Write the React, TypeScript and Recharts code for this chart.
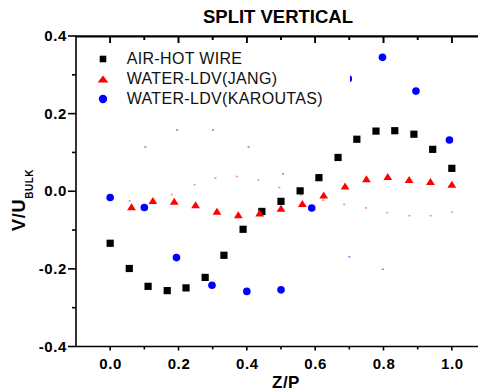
import React from 'react';
import { ScatterChart, Scatter, XAxis, YAxis, Legend } from 'recharts';

const FONT = '"Liberation Sans", Arial, Helvetica, sans-serif';

// ---- data ----
const AIR_X = [0, 0.056, 0.111, 0.167, 0.222, 0.278, 0.333, 0.389, 0.444, 0.5, 0.556, 0.611, 0.667, 0.722, 0.778, 0.833, 0.889, 0.944, 1.0];
const AIR_Y = [-0.134, -0.199, -0.245, -0.256, -0.249, -0.222, -0.165, -0.098, -0.052, -0.026, 0.001, 0.035, 0.087, 0.134, 0.155, 0.156, 0.147, 0.108, 0.059];

const JANG_X = [0.0625, 0.125, 0.1875, 0.25, 0.3125, 0.375, 0.4375, 0.5, 0.5625, 0.625, 0.6875, 0.75, 0.8125, 0.875, 0.9375, 1.0];
const JANG_Y = [-0.04, -0.024, -0.026, -0.035, -0.052, -0.061, -0.056, -0.044, -0.032, -0.01, 0.013, 0.032, 0.038, 0.03, 0.025, 0.018];

const KAR_X = [0.0, 0.1, 0.194, 0.298, 0.4, 0.5, 0.59, 0.697, 0.797, 0.895, 0.993];
const KAR_Y = [-0.016, -0.042, -0.171, -0.242, -0.258, -0.254, -0.043, 0.29, 0.345, 0.258, 0.132];

// faint tiny dots visible in the reference
const FAINT_BLUE_X = [0.103, 0.196, 0.301, 0.405, 0.506, 0.7, 0.798];
const FAINT_BLUE_Y = [0.114, 0.158, 0.158, 0.114, 0.045, -0.169, -0.201];
const FAINT_RED_X = [0.057, 0.18, 0.247, 0.308, 0.371, 0.434, 0.495, 0.559, 0.623, 0.685, 0.749, 0.811, 0.876, 0.938, 1.0];
const FAINT_RED_Y = [-0.025, -0.0085, 0.017, 0.034, 0.038, 0.029, 0.0095, -0.01, -0.023, -0.034, -0.043, -0.055, -0.063, -0.063, -0.054];

const SERIES_NAMES = ['AIR-HOT WIRE', 'WATER-LDV(JANG)', 'WATER-LDV(KAROUTAS)'];
const TITLE = 'SPLIT VERTICAL';
const X_LABEL = 'Z/P';

const X_DOMAIN: [number, number] = [-0.1, 1.1];
const Y_DOMAIN: [number, number] = [-0.4, 0.4];
const X_MAJOR = [0, 0.2, 0.4, 0.6, 0.8, 1.0];
const X_MINOR = [0.1, 0.3, 0.5, 0.7, 0.9];
const Y_MAJOR = [-0.4, -0.2, 0, 0.2, 0.4];
const Y_MINOR = [-0.3, -0.1, 0.1, 0.3];

const zip = (xs: number[], ys: number[]) => xs.map((x, i) => ({ x, y: ys[i] }));
const airData = zip(AIR_X, AIR_Y);
const jangData = zip(JANG_X, JANG_Y);
const karData = zip(KAR_X, KAR_Y);
const faintBlue = zip(FAINT_BLUE_X, FAINT_BLUE_Y);
const faintRed = zip(FAINT_RED_X, FAINT_RED_Y);

const X_TICKS = [...X_MAJOR, ...X_MINOR].sort((a, b) => a - b);
const Y_TICKS = [...Y_MAJOR, ...Y_MINOR].sort((a, b) => a - b);
const isMajor = (v: number, list: number[]) => list.some((m) => Math.abs(m - v) < 1e-9);
const fmt = (v: number) => (Math.abs(v) < 1e-9 ? '0.0' : v.toFixed(1));

// top frame of the plot: its corner and its tick positions, placed through the scales
const topFrame = [
  { x: X_DOMAIN[0], y: Y_DOMAIN[1], edge: true },
  ...X_TICKS.map((t) => ({ x: t, y: Y_DOMAIN[1], edge: false })),
];

const AXIS_W = 1.6;
const PLOT_TOP = 36;
const CHART_H = 392;
const X_AXIS_H = 45;
const PLOT_W = 410;

const YTick = (props: any) => {
  const { x, y, payload } = props;
  const major = isMajor(payload.value, Y_MAJOR);
  const len = major ? 8 : 4;
  const isTop = Math.abs(payload.value - Y_DOMAIN[1]) < 1e-9;
  return (
    <g>
      <line x1={x - len} x2={x} y1={y} y2={y} stroke="#000" strokeWidth={AXIS_W} />
      {isTop && <line x1={x - 0.8} x2={x + PLOT_W + 10} y1={y} y2={y} stroke="#000" strokeWidth={AXIS_W} />}
      {major && (
        <text x={x - 9} y={y + 5.2} textAnchor="end" fontFamily={FONT} fontWeight="bold" fontSize={15} letterSpacing={0.6} fill="#000">
          {fmt(payload.value)}
        </text>
      )}
    </g>
  );
};

const XTick = (props: any) => {
  const { x, y, payload } = props;
  const major = isMajor(payload.value, X_MAJOR);
  const len = major ? 4 : 3;
  const topLen = major ? 7 : 4;
  return (
    <g>
      <line x1={x} x2={x} y1={y} y2={y + len} stroke="#000" strokeWidth={AXIS_W} />
      <line x1={x} x2={x} y1={PLOT_TOP} y2={PLOT_TOP + topLen} stroke="#000" strokeWidth={AXIS_W} />
      {major && (
        <text x={x + 0.5} y={y + 22.8} textAnchor="middle" fontFamily={FONT} fontWeight="bold" fontSize={15} letterSpacing={0.6} fill="#000">
          {fmt(payload.value)}
        </text>
      )}
    </g>
  );
};

const XLabel = () => (
  <g>
    <text x={278} y={388.3} textAnchor="middle" fontFamily={FONT} fontWeight="bold" fontSize={17} letterSpacing={0.5} fill="#000">
      {X_LABEL}
    </text>
    <text x={270} y={22.7} textAnchor="middle" fontFamily={FONT} fontWeight="bold" fontSize={18.5} fill="#000">
      {TITLE}
    </text>
  </g>
);

const YLabel = () => (
  <text
    x={17}
    y={200}
    transform="rotate(-90, 17, 200)"
    textAnchor="middle"
    fontFamily={FONT}
    fontWeight="bold"
    fill="#000"
  >
    <tspan fontSize={18} letterSpacing={0.8}>V/U</tspan>
    <tspan fontSize={10} dy={8} letterSpacing={0.5}>BULK</tspan>
  </text>
);

const SquareShape = (p: any) => <rect x={p.cx - 3.6} y={p.cy - 3.6} width={7.2} height={7.2} fill="#000" />;
const TriShape = (p: any) => (
  <polygon points={`${p.cx - 4.4},${p.cy + 3.4} ${p.cx + 4.4},${p.cy + 3.4} ${p.cx},${p.cy - 3.6}`} fill="#ff0000" />
);
const CircleShape = (p: any) => <circle cx={p.cx} cy={p.cy} r={3.8} fill="#0000ff" />;
const FaintBlue = (p: any) => <rect x={p.cx - 1} y={p.cy - 0.8} width={2} height={1.6} fill="#8080ff" />;
const FaintRed = (p: any) => <rect x={p.cx - 1} y={p.cy - 0.8} width={2} height={1.6} fill="#ff8c8c" />;

const TopFrameShape = (p: any) => {
  const d = p.payload || {};
  if (d.edge) {
    return <line x1={p.cx - 0.8} x2={p.cx + 430} y1={p.cy + 0.6} y2={p.cy + 0.6} stroke="#000" strokeWidth={AXIS_W} />;
  }
  const len = isMajor(d.x, X_MAJOR) ? 7 : 4;
  return <line x1={p.cx} x2={p.cx} y1={p.cy} y2={p.cy + len} stroke="#000" strokeWidth={AXIS_W} />;
};

const LegendSymbol = ({ type, color }: { type: string; color: string }) => {
  if (type === 'square') return <rect x={4.7} y={6.7} width={6.6} height={6.6} fill={color} />;
  if (type === 'triangle') return <polygon points="2.6,13.4 13.4,13.4 8,6.6" fill={color} />;
  return <circle cx={8} cy={10} r={4.2} fill={color} />;
};

const LegendBox = (props: any) => {
  const payload = (props.payload || []).filter((e: any) => e.type !== 'none');
  const centers = [13.3, 33.3, 53];
  return (
    <div style={{ position: 'relative', width: '100%', height: '100%' }}>
      {payload.map((entry: any, i: number) => (
        <div key={entry.value} style={{ position: 'absolute', left: 0, top: centers[i] - 10, height: 20, width: '100%' }}>
          <svg width={16} height={20} style={{ position: 'absolute', left: 22.7 - 8, top: 0 }}>
            <LegendSymbol type={entry.type} color={entry.color} />
          </svg>
          <span
            style={{
              position: 'absolute',
              left: 46.7,
              top: 0,
              lineHeight: '20px',
              fontSize: 16,
              fontFamily: FONT,
              letterSpacing: 0.33,
              color: '#111',
              whiteSpace: 'nowrap',
            }}
          >
            {entry.value}
          </span>
        </div>
      ))}
    </div>
  );
};

export default function App() {
  return (
    <div style={{ position: 'absolute', left: 8, top: 0, width: 470, height: CHART_H, overflow: 'hidden', background: '#fff' }}>
      <ScatterChart width={490} height={CHART_H} margin={{ top: PLOT_TOP, right: 12, bottom: 0.5, left: 0 }}>
        <XAxis
          type="number"
          dataKey="x"
          domain={X_DOMAIN}
          allowDataOverflow
          ticks={X_TICKS}
          interval={0}
          height={X_AXIS_H}
          tickSize={0}
          tickMargin={0}
          tickLine={false}
          tick={<XTick />}
          axisLine={{ stroke: '#000', strokeWidth: AXIS_W }}
          label={<XLabel />}
        />
        <YAxis
          type="number"
          dataKey="y"
          domain={Y_DOMAIN}
          allowDataOverflow
          ticks={Y_TICKS}
          interval={0}
          width={68}
          tickSize={0}
          tickMargin={0}
          tickLine={false}
          tick={<YTick />}
          axisLine={{ stroke: '#000', strokeWidth: AXIS_W }}
          label={<YLabel />}
        />
        <Scatter name="faint-blue" data={faintBlue} fill="#8080ff" legendType="none" shape={<FaintBlue />} isAnimationActive={false} />
        <Scatter name="faint-red" data={faintRed} fill="#ff8c8c" legendType="none" shape={<FaintRed />} isAnimationActive={false} />
        <Scatter name={SERIES_NAMES[0]} data={airData} fill="#000000" legendType="square" shape={<SquareShape />} isAnimationActive={false} />
        <Scatter name={SERIES_NAMES[1]} data={jangData} fill="#ff0000" legendType="triangle" shape={<TriShape />} isAnimationActive={false} />
        <Scatter name={SERIES_NAMES[2]} data={karData} fill="#0000ff" legendType="circle" shape={<CircleShape />} isAnimationActive={false} />
        <Scatter name="top-frame" data={topFrame} fill="#000" legendType="none" shape={<TopFrameShape />} isAnimationActive={false} />
        <Legend
          layout="vertical"
          align="center"
          verticalAlign="middle"
          content={<LegendBox />}
          wrapperStyle={{ left: 72, top: 46, width: 270, height: 66, background: '#fff' }}
        />
      </ScatterChart>
    </div>
  );
}
